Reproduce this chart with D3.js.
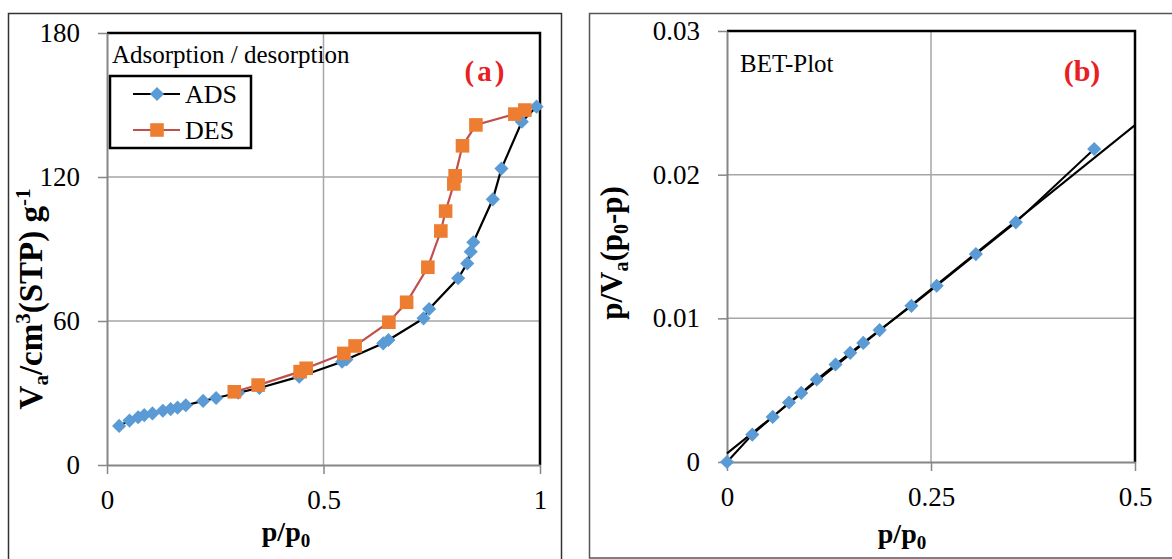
<!DOCTYPE html>
<html>
<head>
<meta charset="utf-8">
<script src="https://cdn.jsdelivr.net/npm/d3@7"></script>
<style>
  body { margin: 0; background: #fff; }
  text { font-family: "Liberation Serif", "Times New Roman", serif; }
</style>
</head>
<body>
<div id="chart"></div>
<script>
// Dimensions
const width = 1172, height = 559;

// (a) isotherme adsorption / desorption
const adsX = [0.028, 0.052, 0.072, 0.086, 0.105, 0.129, 0.147, 0.163, 0.182, 0.222, 0.252, 0.303, 0.352,
              0.444, 0.543, 0.553, 0.638, 0.650, 0.731, 0.744, 0.811, 0.832, 0.840, 0.846, 0.891, 0.911, 0.958, 0.992];
const adsY = [16.3, 18.5, 19.9, 20.8, 21.5, 22.6, 23.3, 23.9, 24.9, 26.7, 27.9, 30.1, 32.1,
              36.8, 43.0, 44.0, 50.7, 52.1, 61.1, 65.0, 77.8, 84.0, 88.9, 92.8, 110.7, 123.5, 143.0, 149.3];
const desX = [0.965, 0.942, 0.852, 0.821, 0.804, 0.801, 0.782, 0.771, 0.741, 0.692, 0.651, 0.573, 0.547, 0.460, 0.446, 0.349, 0.294];
const desY = [147.9, 146.2, 141.7, 133.0, 120.5, 117.1, 105.8, 97.5, 82.4, 67.8, 59.5, 49.6, 46.5, 40.3, 38.9, 33.3, 30.5];
const isoXTicks = [0, 0.5, 1];
const isoYTicks = [0, 60, 120, 180];

// (b) BET
const betX = [0, 0.031, 0.056, 0.076, 0.091, 0.110, 0.133, 0.151, 0.167, 0.187, 0.226, 0.257, 0.305, 0.354, 0.450];
const betY = [0, 0.00191, 0.00314, 0.00414, 0.00481, 0.00574, 0.00679, 0.00760, 0.00829, 0.00918, 0.01087, 0.01227, 0.01447, 0.01668, 0.02179];
const trendX = [0, 0.5];
const trendY = [0.0006, 0.02345];
const betXTicks = [0, 0.25, 0.5];
const betYTicks = [0, 0.01, 0.02, 0.03];

const blue = "#5b9bd5", orange = "#ed7d31", desLine = "#c0504d", red = "#e8201f";
const gridColor = "#a6a6a6", axisColor = "#868686";

const svg = d3.select("#chart").append("svg")
    .attr("width", width)
    .attr("height", height);

svg.append("rect").attr("width", width).attr("height", height).attr("fill", "#fff");

// Cadres des deux figures
svg.append("rect")
    .attr("x", 8.5).attr("y", 13.5).attr("width", 553).attr("height", 600)
    .attr("fill", "none").attr("stroke", "#333").attr("stroke-width", 1.5);
svg.append("rect")
    .attr("x", 589.5).attr("y", 13.5).attr("width", 620).attr("height", 544.5)
    .attr("fill", "none").attr("stroke", "#555").attr("stroke-width", 1.5);

const diamond = d3.symbol().type(d3.symbolSquare).size(100);
const square = d3.symbol().type(d3.symbolSquare).size(185);

function drawFrame(x, y, xTicks, yTicks) {
    const [x0, x1] = x.range();
    const [y0, y1] = y.range();
    const g = svg.append("g");

    // Quadrillage
    g.selectAll(".gx").data(xTicks.slice(1, -1)).enter().append("line")
        .attr("x1", d => x(d)).attr("x2", d => x(d))
        .attr("y1", y0).attr("y2", y1)
        .attr("stroke", gridColor).attr("stroke-width", 1.5);
    g.selectAll(".gy").data(yTicks.slice(1, -1)).enter().append("line")
        .attr("x1", x0).attr("x2", x1)
        .attr("y1", d => y(d)).attr("y2", d => y(d))
        .attr("stroke", gridColor).attr("stroke-width", 1.5);

    // Bords haut et droit
    g.append("path")
        .attr("d", `M${x0},${y1}H${x1}V${y0}`)
        .attr("fill", "none").attr("stroke", "#000").attr("stroke-width", 2.5);

    const ax = svg.append("g")
        .attr("transform", `translate(0,${y0})`)
        .call(d3.axisBottom(x).tickValues(xTicks).tickSize(9).tickSizeOuter(0).tickPadding(16).tickFormat(d => String(d)));
    const ay = svg.append("g")
        .attr("transform", `translate(${x0},0)`)
        .call(d3.axisLeft(y).tickValues(yTicks).tickSize(9).tickSizeOuter(0).tickPadding(18).tickFormat(d => String(d)));
    [ax, ay].forEach(a => {
        a.select(".domain").attr("stroke", axisColor).attr("stroke-width", 2);
        a.selectAll(".tick line").attr("stroke", axisColor).attr("stroke-width", 1.5);
        a.selectAll(".tick text")
            .attr("font-family", "Liberation Serif")
            .attr("font-size", 27)
            .attr("fill", "#000");
    });
}

// ---------- (a) ----------
const xa = d3.scaleLinear().domain([0, 1]).range([107, 540]);
const ya = d3.scaleLinear().domain([0, 180]).range([465, 33]);
drawFrame(xa, ya, isoXTicks, isoYTicks);

const ads = adsX.map((d, i) => [d, adsY[i]]);
const des = desX.map((d, i) => [d, desY[i]]);
const lineA = d3.line().x(d => xa(d[0])).y(d => ya(d[1]));

svg.append("path").attr("d", lineA(ads))
    .attr("fill", "none").attr("stroke", "#000").attr("stroke-width", 2.2);
svg.selectAll(".ads").data(ads).enter().append("path")
    .attr("d", diamond)
    .attr("transform", d => `translate(${xa(d[0])},${ya(d[1])}) rotate(45)`)
    .attr("fill", blue);
svg.append("path").attr("d", lineA(des))
    .attr("fill", "none").attr("stroke", desLine).attr("stroke-width", 2.2);
svg.selectAll(".des").data(des).enter().append("path")
    .attr("d", square)
    .attr("transform", d => `translate(${xa(d[0])},${ya(d[1])})`)
    .attr("fill", orange);

// Légende
svg.append("text").attr("x", 112).attr("y", 63)
    .attr("font-size", 25).text("Adsorption / desorption");
svg.append("rect").attr("x", 110).attr("y", 76).attr("width", 141).attr("height", 72)
    .attr("fill", "#fff").attr("stroke", "#000").attr("stroke-width", 2.5);
const legend = [
    { name: "ADS", line: "#000", sym: diamond, rot: 45, fill: blue, y: 94 },
    { name: "DES", line: desLine, sym: square, rot: 0, fill: orange, y: 130 }
];
legend.forEach(l => {
    svg.append("line").attr("x1", 133).attr("x2", 180).attr("y1", l.y).attr("y2", l.y)
        .attr("stroke", l.line).attr("stroke-width", 2.2);
    svg.append("path").attr("d", l.sym)
        .attr("transform", `translate(157,${l.y}) rotate(${l.rot})`)
        .attr("fill", l.fill);
    svg.append("text").attr("x", 185).attr("y", l.y + 9)
        .attr("font-size", 26).text(l.name);
});

svg.append("text").attr("x", 486).attr("y", 81).attr("text-anchor", "middle")
    .attr("font-size", 29).attr("font-weight", "bold").attr("fill", red)
    .attr("letter-spacing", 3).text("(a)");

// Titres d'axes (a)
const ta = svg.append("text").attr("font-size", 28).attr("font-weight", "bold")
    .attr("text-anchor", "middle").attr("x", 286).attr("y", 541);
ta.append("tspan").text("p/p");
ta.append("tspan").attr("font-size", 19).attr("dy", 6).text("0");

const tya = svg.append("text").attr("font-size", 33).attr("font-weight", "bold")
    .attr("text-anchor", "middle")
    .attr("transform", "translate(42,299) rotate(-90)");
tya.append("tspan").text("V");
tya.append("tspan").attr("font-size", 21).attr("dy", 6).text("a");
tya.append("tspan").attr("dy", -6).text("/cm");
tya.append("tspan").attr("font-size", 21).attr("dy", -12).text("3");
tya.append("tspan").attr("dy", 12).text("(STP) g");
tya.append("tspan").attr("font-size", 21).attr("dy", -12).text("-1");

// ---------- (b) ----------
const xb = d3.scaleLinear().domain([0, 0.5]).range([727, 1135]);
const yb = d3.scaleLinear().domain([0, 0.03]).range([462, 31]);
drawFrame(xb, yb, betXTicks, betYTicks);

const lineB = d3.line().x(d => xb(d[0])).y(d => yb(d[1]));
const bet = betX.map((d, i) => [d, betY[i]]);
const trend = trendX.map((d, i) => [d, trendY[i]]);

svg.append("path").attr("d", lineB(trend))
    .attr("fill", "none").attr("stroke", "#000").attr("stroke-width", 2);
svg.append("path").attr("d", lineB(bet))
    .attr("fill", "none").attr("stroke", "#000").attr("stroke-width", 2);
svg.selectAll(".bet").data(bet).enter().append("path")
    .attr("d", diamond)
    .attr("transform", d => `translate(${xb(d[0])},${yb(d[1])}) rotate(45)`)
    .attr("fill", blue);

svg.append("text").attr("x", 740).attr("y", 72)
    .attr("font-size", 25).text("BET-Plot");
svg.append("text").attr("x", 1082).attr("y", 81).attr("text-anchor", "middle")
    .attr("font-size", 30).attr("font-weight", "bold").attr("fill", red)
    .text("(b)");

const tb = svg.append("text").attr("font-size", 28).attr("font-weight", "bold")
    .attr("text-anchor", "middle").attr("x", 902).attr("y", 543);
tb.append("tspan").text("p/p");
tb.append("tspan").attr("font-size", 19).attr("dy", 6).text("0");

const tyb = svg.append("text").attr("font-size", 31).attr("font-weight", "bold")
    .attr("text-anchor", "middle")
    .attr("transform", "translate(622,253) rotate(-90)");
tyb.append("tspan").text("p/V");
tyb.append("tspan").attr("font-size", 20).attr("dy", 6).text("a");
tyb.append("tspan").attr("dy", -6).text("(p");
tyb.append("tspan").attr("font-size", 20).attr("dy", 6).text("0");
tyb.append("tspan").attr("dy", -6).text("-p)");
</script>
</body>
</html>
